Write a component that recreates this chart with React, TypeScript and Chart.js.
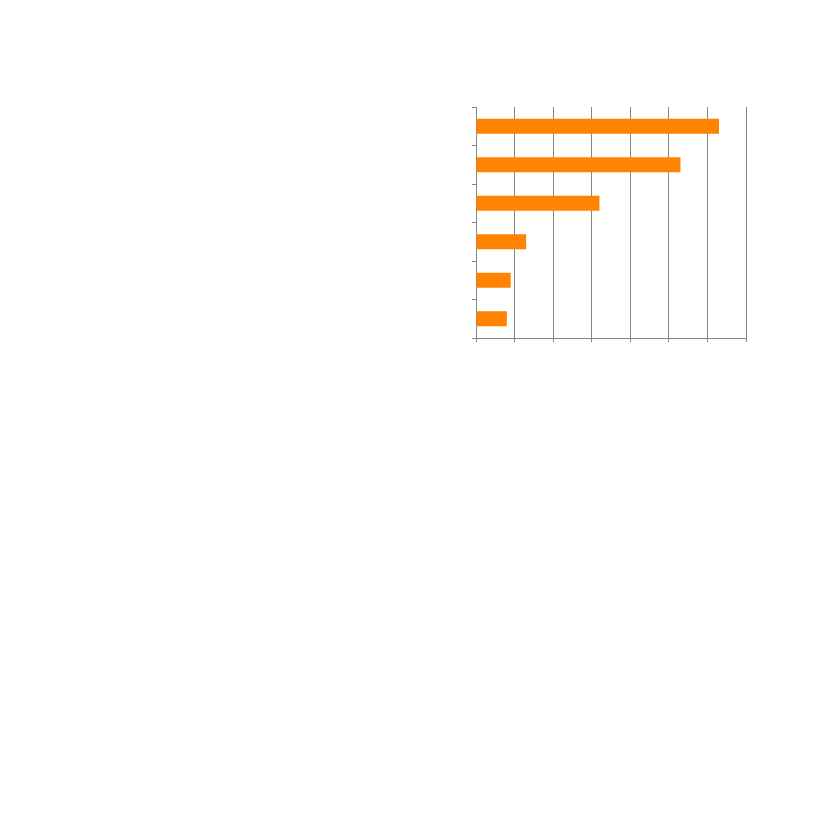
import { useEffect, useRef } from 'react';
import { Chart, registerables } from 'chart.js';

Chart.register(...registerables);

const categories = ['1', '2', '3', '4', '5', '6'];
const values = [6.3, 5.3, 3.2, 1.3, 0.9, 0.8];
const xMax = 7;
const xStep = 1;

export default function App() {
  const canvasRef = useRef<HTMLCanvasElement>(null);
  const chartRef = useRef<Chart | null>(null);

  useEffect(() => {
    if (!canvasRef.current) return;
    const ctx = canvasRef.current.getContext('2d');
    if (!ctx) return;

    if (chartRef.current) {
      chartRef.current.destroy();
    }

    const axisColor = '#868686';

    chartRef.current = new Chart(ctx, {
      type: 'bar',
      data: {
        labels: categories,
        datasets: [{
          data: values,
          backgroundColor: '#FF8200',
          borderWidth: 0,
          barPercentage: 0.39,
          categoryPercentage: 1,
        }],
      },
      options: {
        indexAxis: 'y',
        responsive: true,
        maintainAspectRatio: false,
        animation: false,
        layout: {
          padding: { left: 472, right: 81, top: 107, bottom: 485 },
        },
        plugins: {
          legend: { display: false },
          tooltip: { enabled: false },
        },
        scales: {
          x: {
            type: 'linear',
            min: 0,
            max: xMax,
            ticks: { display: false, stepSize: xStep },
            grid: { color: axisColor, lineWidth: 1, drawTicks: true, tickLength: 4 },
            border: { display: true, color: axisColor },
          },
          y: {
            ticks: { display: false },
            grid: { color: axisColor, drawOnChartArea: false, drawTicks: true, tickLength: 4 },
            border: { display: true, color: axisColor },
          },
        },
      },
    });

    return () => {
      if (chartRef.current) {
        chartRef.current.destroy();
        chartRef.current = null;
      }
    };
  }, []);

  return (
    <div style={{ position: 'fixed', left: 0, top: 0, width: 827, height: 827, background: '#fff' }}>
      <canvas ref={canvasRef} />
    </div>
  );
}
